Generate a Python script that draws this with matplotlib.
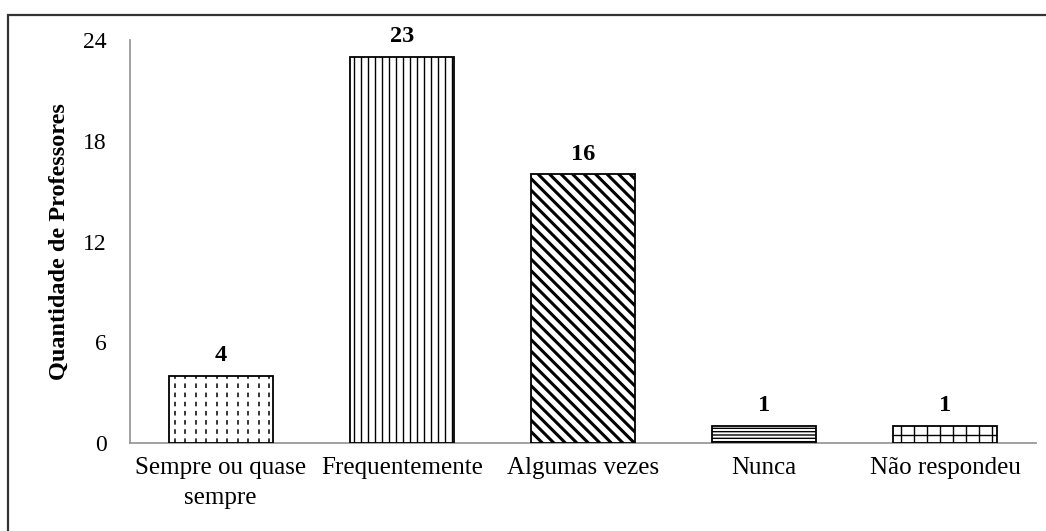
"""Bar chart - frequency reported by teachers (Quantidade de Professores)."""
import matplotlib

matplotlib.use("Agg")
import matplotlib.pyplot as plt
from matplotlib.lines import Line2D
from matplotlib.patches import Rectangle
import numpy as np

categories = ["Sempre ou quase\nsempre", "Frequentemente", "Algumas vezes", "Nunca", "Não respondeu"]
counts = [4, 23, 16, 1, 1]
y_ticks = [0, 6, 12, 18, 24]
y_label = "Quantidade de Professores"

plt.rcParams["font.family"] = ["Liberation Serif", "DejaVu Serif"]
plt.rcParams["hatch.color"] = "black"
plt.rcParams["hatch.linewidth"] = 1.0

AXIS_GRAY = "#9a9a9a"


def clipped_lines(ax, bar, segs, **kw):
    # draw pattern lines (data coords) clipped to the bar outline
    for (x0, y0), (x1, y1) in segs:
        ln = Line2D([x0, x1], [y0, y1], color="black", **kw)
        ax.add_line(ln)
        ln.set_clip_path(bar)


def vertical_segs(bar, step):
    x0, w, h = bar.get_x(), bar.get_width(), bar.get_height()
    return [((xx, 0), (xx, h)) for xx in np.arange(x0 + step * 0.6, x0 + w, step)]


def main() -> int:
    fig = plt.figure(figsize=(10.46, 5.31), dpi=100)
    ax = fig.add_axes([130 / 1046, 1 - 443 / 531, 906 / 1046, 403 / 531])

    # outer frame
    fig.patches.append(Rectangle((8 / 1046, -0.1), 1.2, 1 - 15 / 531 + 0.1,
                                 transform=fig.transFigure, fill=False,
                                 edgecolor="#333333", linewidth=1.6))

    x = np.arange(len(categories))
    width = 0.575
    bars = ax.bar(x, counts, width=width, color="white", edgecolor="black",
                  linewidth=1.3, zorder=3)
    bars[3].set_hatch("-----")

    ax.set_xlim(-0.5, len(categories) - 0.5)
    ax.set_ylim(0, 24)

    px_x = 906 / len(categories)  # px per x unit
    px_y = 403 / 24               # px per y unit

    # bar 1: short vertical dashes
    clipped_lines(ax, bars[0], vertical_segs(bars[0], 10.5 / px_x),
                  linewidth=1.1, linestyle=(0, (3, 3)), zorder=4)

    # bar 2: dense vertical lines
    clipped_lines(ax, bars[1], vertical_segs(bars[1], 7.0 / px_x),
                  linewidth=1.0, zorder=4)

    # bar 3: thick back-diagonal stripes
    b = bars[2]
    x0, w, h = b.get_x(), b.get_width(), b.get_height()
    step = 11.5 / px_x
    dx = h * px_y / px_x
    segs = [((xx, h), (xx + dx, 0)) for xx in np.arange(x0 - dx, x0 + w + step, step)]
    clipped_lines(ax, b, segs, linewidth=2.2, zorder=4)

    # bar 5: grid
    b = bars[4]
    h = b.get_height()
    segs = vertical_segs(b, 13.0 / px_x)
    segs.append(((b.get_x(), h / 2), (b.get_x() + b.get_width(), h / 2)))
    clipped_lines(ax, b, segs, linewidth=1.0, zorder=4)

    for rect, v in zip(bars, counts):
        ax.annotate(str(v), (rect.get_x() + rect.get_width() / 2, v),
                    xytext=(0, 7), textcoords="offset points",
                    ha="center", va="bottom", fontsize=17.5, fontweight="bold")

    ax.set_xticks(x)
    ax.set_xticklabels(categories, fontsize=18, linespacing=1.45)
    ax.set_yticks(y_ticks)
    ax.tick_params(axis="y", length=0, pad=17, labelsize=17)
    ax.tick_params(axis="x", length=0, pad=10)
    ax.set_ylabel(y_label, fontsize=17.5, fontweight="bold", labelpad=9)

    for side in ("top", "right"):
        ax.spines[side].set_visible(False)
    for side in ("left", "bottom"):
        ax.spines[side].set_color(AXIS_GRAY)
        ax.spines[side].set_linewidth(1.3)
        ax.spines[side].set_zorder(2)

    fig.savefig("out.png", dpi=100)
    plt.close(fig)
    return 0


if __name__ == "__main__":
    raise SystemExit(main())
